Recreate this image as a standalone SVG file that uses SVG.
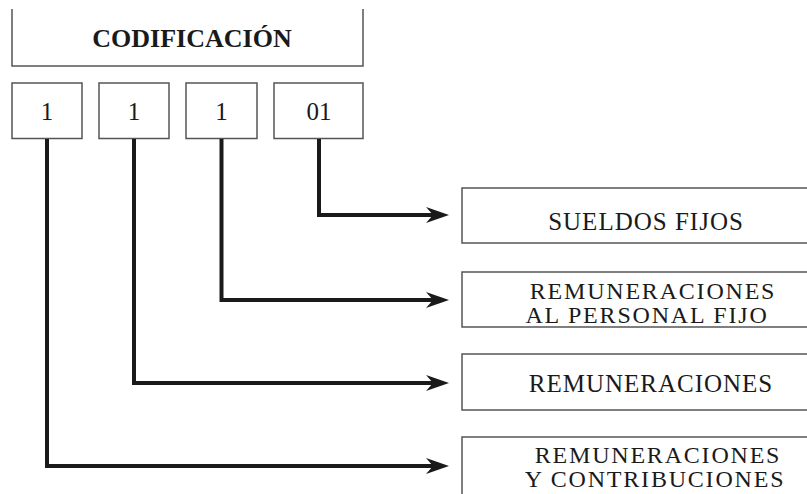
<svg xmlns="http://www.w3.org/2000/svg" width="807" height="494" viewBox="0 0 807 494">
<style>
.box{fill:#fff;stroke:#555;stroke-width:1.5}
.t{font-family:"Liberation Serif","Times New Roman",serif;fill:#1a1a1a;text-anchor:middle}
.code{font-size:25px}
.lbl{font-size:25px;letter-spacing:1px}
.lbl2{font-size:24px;letter-spacing:1.8px}
.title{font-size:26px;font-weight:bold}
.conn{fill:none;stroke:#1a1a1a;stroke-width:4;stroke-linejoin:miter}
</style>
<defs>
<marker id="arr" viewBox="0 0 23 16" refX="9" refY="8" markerWidth="23" markerHeight="16" markerUnits="userSpaceOnUse" orient="auto">
<path d="M0,0 L23,8 L0,16 L7,8 Z" fill="#1a1a1a"/>
</marker>
</defs>
<rect width="807" height="494" fill="#fff"/>
<g id="codificacion">
<path class="box" d="M12,9 V66 H363 V9"/>
<text class="t title" x="192" y="47">CODIFICACIÓN</text>
</g>
<g id="d1"><rect class="box" x="12" y="83" width="70" height="55.5"/><text class="t code" x="47" y="120">1</text></g>
<g id="d2"><rect class="box" x="99" y="83" width="70" height="55.5"/><text class="t code" x="134" y="120">1</text></g>
<g id="d3"><rect class="box" x="186" y="83" width="71" height="55.5"/><text class="t code" x="221.5" y="120">1</text></g>
<g id="d4"><rect class="box" x="274" y="83" width="89" height="55.5"/><text class="t code" x="319" y="120">01</text></g>
<g id="sueldos"><rect class="box" x="462" y="188" width="360" height="55"/><text class="t lbl" x="646" y="230">SUELDOS FIJOS</text></g>
<g id="personal"><rect class="box" x="462" y="272" width="360" height="55"/><text class="t lbl2" x="653" y="299">REMUNERACIONES</text><text class="t lbl2" x="647" y="323">AL PERSONAL FIJO</text></g>
<g id="remuneraciones"><rect class="box" x="462" y="354" width="360" height="56"/><text class="t lbl" x="651" y="392">REMUNERACIONES</text></g>
<g id="contribuciones"><rect class="box" x="462" y="437" width="360" height="80"/><text class="t lbl2" x="658" y="463">REMUNERACIONES</text><text class="t lbl2" x="655" y="487">Y CONTRIBUCIONES</text></g>
<g id="connectors">
<path class="conn" d="M319,139 V215 H435" marker-end="url(#arr)"/>
<path class="conn" d="M221.5,139 V300 H435" marker-end="url(#arr)"/>
<path class="conn" d="M134,139 V383 H435" marker-end="url(#arr)"/>
<path class="conn" d="M47,139 V466 H435" marker-end="url(#arr)"/>
</g>
</svg>
